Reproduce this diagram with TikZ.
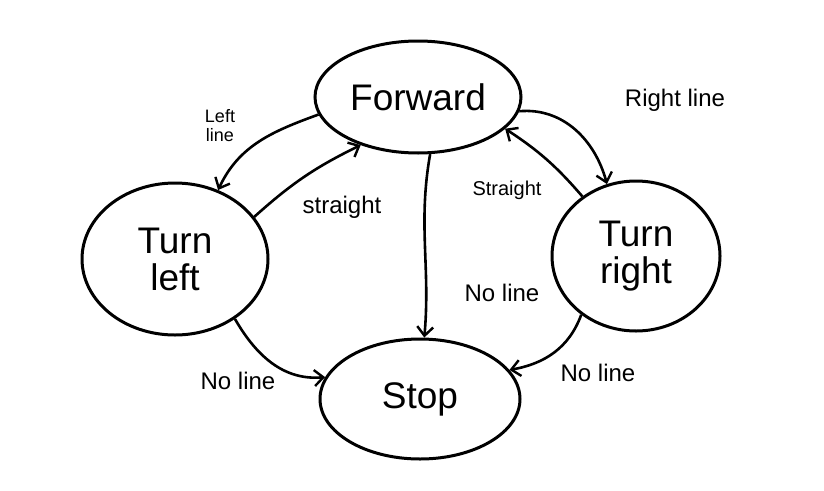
\documentclass[tikz,border=0pt]{standalone}
\usepackage{fontspec}
\setmainfont{Liberation Sans}
\usetikzlibrary{shapes.geometric,arrows.meta}
\begin{document}
\begin{tikzpicture}[x=1pt,y=-1pt,
  state/.style={draw,ellipse,line width=3pt,inner sep=0pt,font=\fontsize{37}{37}\selectfont,align=center},
  edge/.style={draw,line width=2.6pt,-{Straight Barb[length=9pt,width=16pt,line width=2.4pt]}},
  lab/.style={font=\fontsize{24}{26}\selectfont,align=center}]
\useasboundingbox (0,0) rectangle (824,490);
\node[state,minimum width=206pt,minimum height=112pt] (fwd) at (418,97) {Forward};
\node[state,minimum width=186pt,minimum height=152pt] (tl) at (175,259) {Turn\\left};
\node[state,minimum width=168pt,minimum height=150pt] (tr) at (636,256) {Turn\\right};
\node[state,minimum width=200pt,minimum height=120pt] (stop) at (420,399) {Stop};
\draw[edge] (fwd.190) to[out=200,in=65] (tl.58);
\draw[edge] (tl.28) to[bend left=8] (fwd.-140);
\draw[edge] (fwd.-8) to[out=5,in=105] (tr.112);
\draw[edge] (tr.132) to[bend right=8] (fwd.-20);
\draw[edge] (fwd.-78) to[out=-100,in=85] (stop.86);
\draw[edge] (tl.-45) to[out=-60,in=185] (stop.167);
\draw[edge] (tr.-133) to[out=-110,in=10] (stop.18);
\node[lab,font=\fontsize{18}{19}\selectfont] (l1) at (220,126) {Left\\line};
\node[lab] (l2) at (342,207) {straight};
\node[lab] (l3) at (675,100) {Right line};
\node[lab,font=\fontsize{20}{22}\selectfont] (l4) at (507,190) {Straight};
\node[lab] (l5) at (502,293) {No line};
\node[lab] (l6) at (238,381) {No line};
\node[lab] (l7) at (598,373) {No line};
\end{tikzpicture}
\end{document}
